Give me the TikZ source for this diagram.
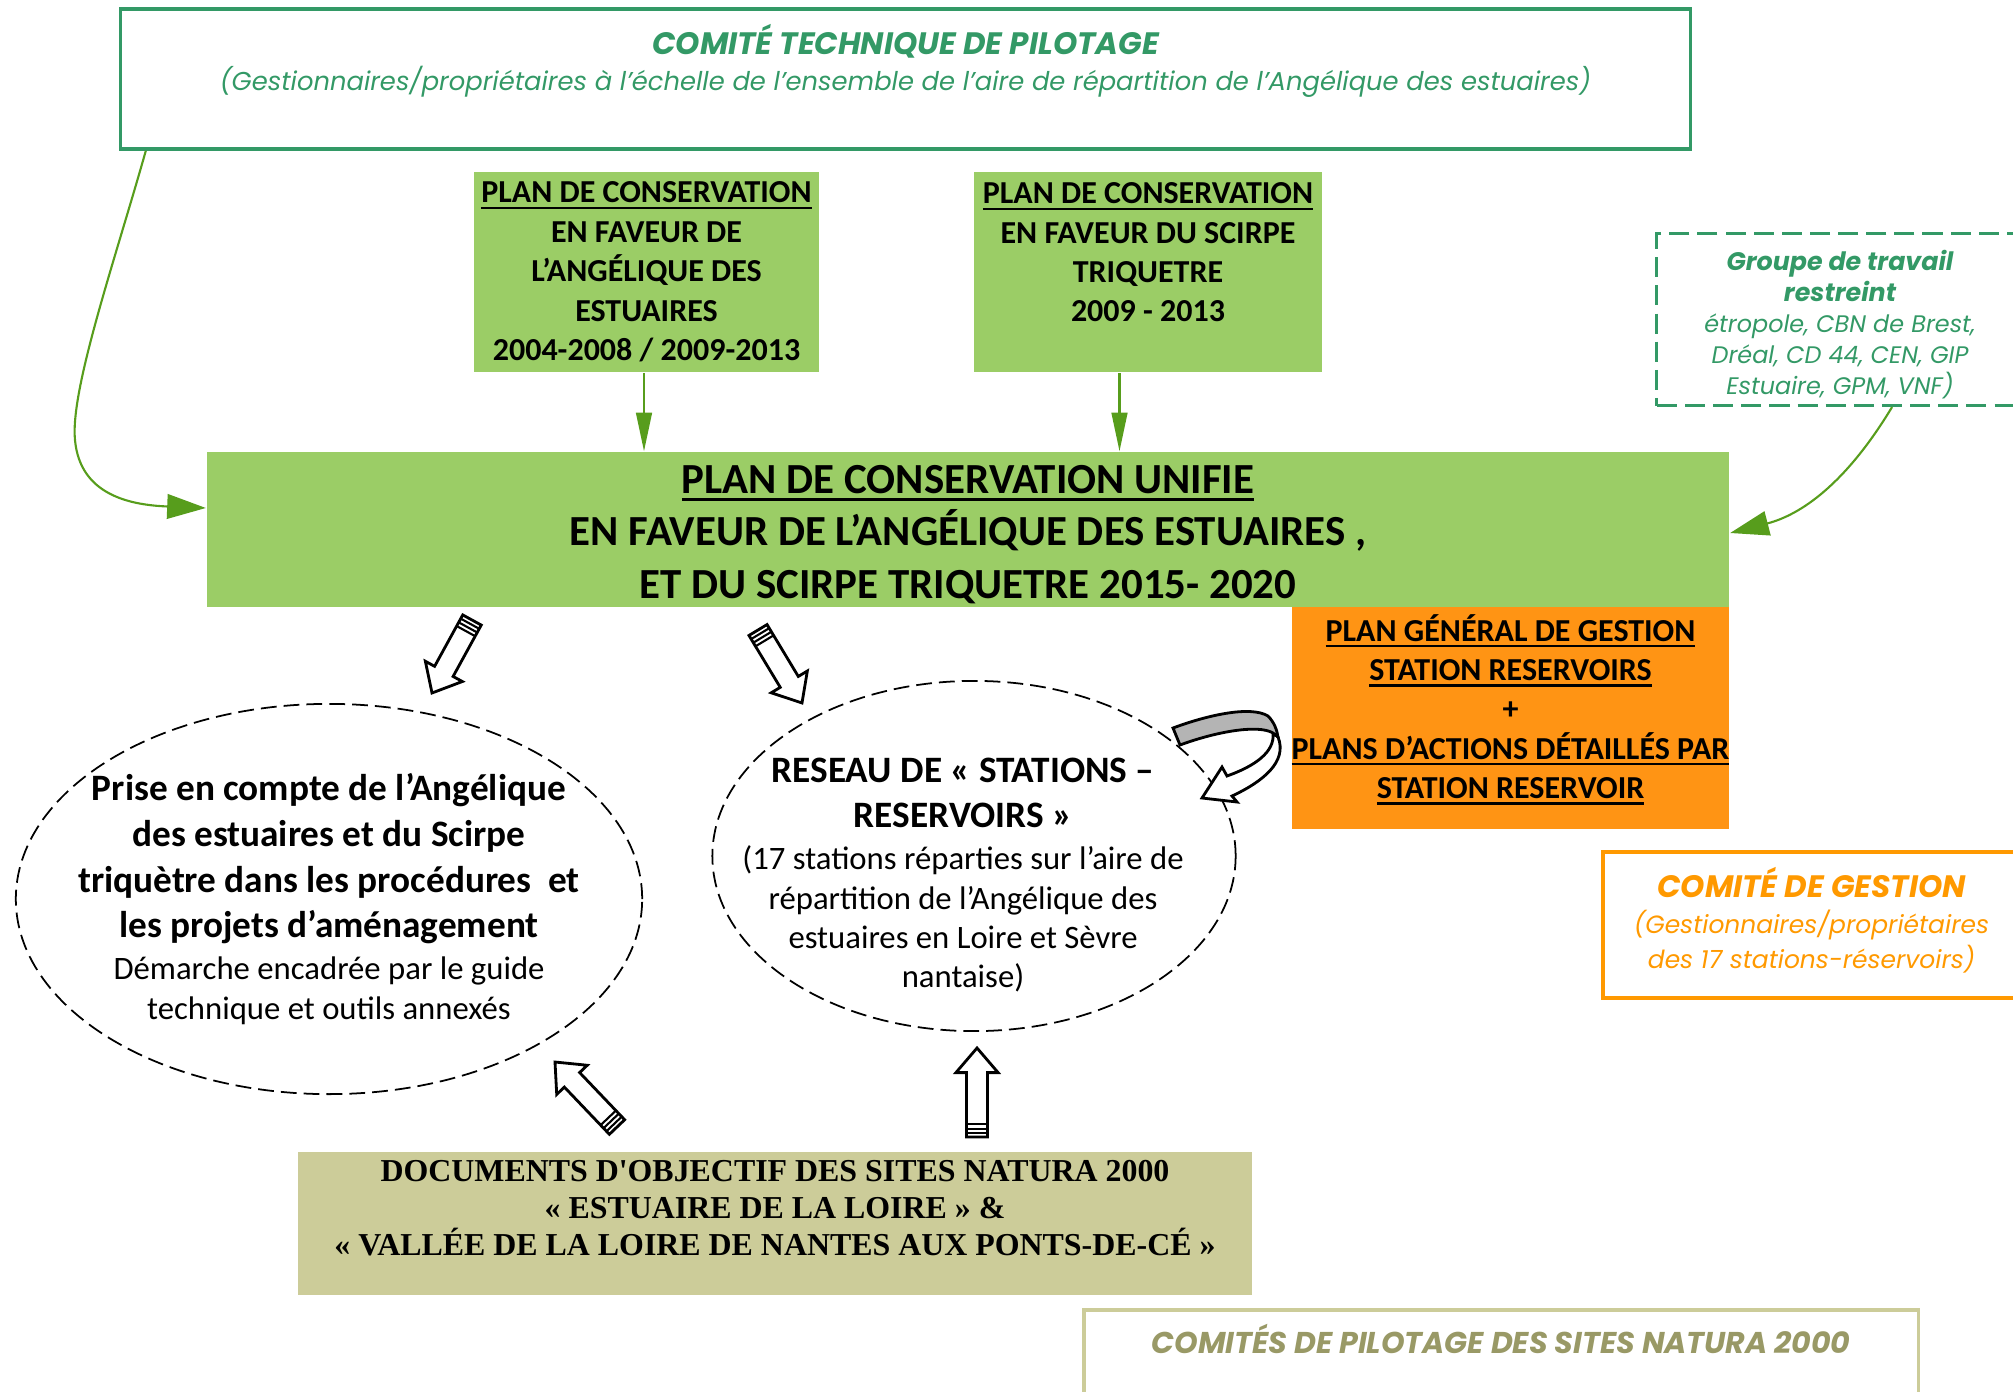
\documentclass[tikz,border=0pt]{standalone}
\usepackage{fontspec}
\setmainfont{Carlito}
\newfontfamily\gothic{Poppins}
\newfontfamily\timesf{Liberation Serif}
\usetikzlibrary{arrows.meta}
\usetikzlibrary{calc}
\usetikzlibrary{shapes.geometric}
\definecolor{cgreen}{RGB}{51,153,102}
\definecolor{lgreen}{RGB}{155,205,102}
\definecolor{agreen}{RGB}{87,157,28}
\definecolor{corange}{RGB}{255,148,20}
\definecolor{korange}{RGB}{255,153,0}
\definecolor{khaki}{RGB}{204,204,153}
\definecolor{olive}{RGB}{153,153,102}
\definecolor{gband}{RGB}{180,180,180}
\newcommand{\eb}{\fontsize{10.6}{13}\selectfont\bfseries}
\newcommand{\er}{\fontsize{9.3}{11.4}\selectfont\mdseries}
\newcommand{\gb}{\fontsize{7.2}{8.8}\selectfont\bfseries}
\newcommand{\ul}[1]{\setbox0=\hbox{#1}\rlap{\rule[-0.19em]{\wd0}{0.07em}}\box0}
\tikzset{greenbox/.style = {fill=lgreen, align=center, inner sep=0,
                            font=\fontsize{9.1}{11.2}\selectfont\bfseries}}
\tikzset{ellipsebox/.style = {ellipse, draw, line width=0.5pt,
                              dash pattern=on 4.5pt off 2pt}}
\tikzset{greenarrow/.style = {draw=agreen, line width=0.6pt,
                              -{Triangle[length=11pt, width=7pt]}}}
\tikzset{downarrow/.style = {draw=agreen, line width=0.6pt,
                             -{Triangle[length=11pt, width=4.5pt]}}}
\tikzset{pics/hollowarrow/.style = {code = {
    \draw [fill=white, line width=0.8pt] (0pt,-3pt) -- ({#1-7pt},-3pt) -- ({#1-7pt},-6pt)
      -- (#1,0pt) -- ({#1-7pt},6pt) -- ({#1-7pt},3pt) -- (0pt,3pt) -- cycle;
    \foreach \s in {1.2, 2.4, 3.6}
      \draw [line width=0.6pt] (\s pt,-3pt) -- (\s pt,3pt);
  }}}
\newcommand{\blockarrow}[2]{%
  \path let \p1 = (#1), \p2 = (#2), \n1 = {atan2(\y2-\y1,\x2-\x1)},
    \n2 = {veclen(\x2-\x1,\y2-\y1)} in pic [rotate=\n1] at (#1) {hollowarrow=\n2};}

\begin{document}
\begin{tikzpicture}[x=0.01cm, y=-0.01cm]
    \useasboundingbox (0,0) rectangle (2013,1391);

    \node [draw=cgreen, line width=1pt, minimum width=15.69cm, minimum height=1.40cm,
           align=center, text=cgreen, font=\gothic\fontsize{7.34}{10.2}\selectfont\itshape] (comite) at (905.5, 79)
      {\fontsize{8.8}{10.2}\selectfont\bfseries COMITÉ TECHNIQUE DE PILOTAGE\\
       (Gestionnaires/propriétaires à l’échelle de l’ensemble de l’aire de répartition de l’Angélique des estuaires)\\[2pt]
       \mbox{}};

    \node [greenbox, minimum width=3.45cm, minimum height=2.00cm] (plan1) at (646.5, 272)
      {\ul{PLAN DE CONSERVATION}\\ EN FAVEUR DE\\ L’ANGÉLIQUE DES\\ ESTUAIRES\\ 2004-2008 / 2009-2013};
    \node [greenbox, minimum width=3.48cm, minimum height=2.00cm] (plan2) at (1148, 272)
      {\ul{PLAN DE CONSERVATION}\\ EN FAVEUR DU SCIRPE\\ TRIQUETRE\\ 2009 - 2013\\ \mbox{}};

    \node [draw=cgreen, line width=0.85pt, dash pattern=on 5.7pt off 2.3pt, inner sep=0,
           minimum width=3.66cm, minimum height=1.72cm, align=center, text=cgreen,
           font=\gothic\fontsize{6.8}{8.8}\selectfont\itshape] (groupe) at (1840, 319.5)
      {\mbox{}\\ \gb Groupe de travail\\ \gb restreint\\ étropole, CBN de Brest,\\
       Dréal, CD 44, CEN, GIP\\ Estuaire, GPM, VNF)};

    \node [greenbox, minimum width=15.22cm, minimum height=1.55cm,
           font=\fontsize{12.2}{14.9}\selectfont\bfseries] (unifie) at (968, 529.5)
      {\mbox{}\\[-4.2pt] \ul{PLAN DE CONSERVATION UNIFIE}\\ EN FAVEUR DE L’ANGÉLIQUE DES ESTUAIRES ,\\
       ET DU SCIRPE TRIQUETRE 2015- 2020};

    \node [greenbox, fill=corange, minimum width=4.37cm, minimum height=2.22cm] (gestionplan) at (1510.5, 718)
      {\ul{PLAN GÉNÉRAL DE GESTION}\\ \ul{STATION RESERVOIRS}\\ +\\
       \ul{PLANS D’ACTIONS DÉTAILLÉS PAR}\\ \ul{STATION RESERVOIR}\\[-4.6pt] \mbox{}};

    \node [draw=korange, line width=1pt, minimum width=4.17cm, minimum height=1.46cm,
           align=center, text=korange, font=\gothic\fontsize{7.1}{10}\selectfont\itshape]
      (gestion) at (1811.5, 925)
      {\fontsize{8.8}{10}\selectfont\bfseries COMITÉ DE GESTION\\ (Gestionnaires/propriétaires\\
       des 17 stations-réservoirs)\\[-6pt] \mbox{}};

    \node [ellipsebox, minimum width=6.26cm, minimum height=3.90cm] (prise) at (329, 899) {};
    \node [align=center, font=\eb] (prisetext) at (prise.center)
      {\eb Prise en compte de l’Angélique\\ \eb des estuaires et du Scirpe\\
       \eb triquètre dans les procédures \ et\\ \eb les projets d’aménagement\\[-1.3pt]
       \er Démarche encadrée par le guide\\[-1.6pt] \er technique et outils annexés};

    \node [ellipsebox, minimum width=5.23cm, minimum height=3.50cm] (reseau) at (974, 856) {};
    \node [align=center, font=\eb] (reseautext) at (963, 875)
      {\eb RESEAU DE « STATIONS –\\ \eb RESERVOIRS »\\[-1.1pt]
       \er (17 stations réparties sur l’aire de\\[-1.8pt] \er répartition de l’Angélique des\\[-1.8pt]
       \er estuaires en Loire et Sèvre\\[-1.8pt] \er nantaise)};

    \node [fill=khaki, minimum width=9.54cm, minimum height=1.43cm, align=center, inner sep=0,
           font=\timesf\fontsize{9.07}{10.5}\selectfont\bfseries] (docob) at (775, 1223.5)
      {DOCUMENTS D'OBJECTIF DES SITES NATURA 2000\\ « ESTUAIRE DE LA LOIRE » \&\\
       « VALLÉE DE LA LOIRE DE NANTES AUX PONTS-DE-CÉ »\\[-1.4pt] \mbox{}};

    \node [draw=khaki, line width=1pt, anchor=north, minimum width=8.34cm, inner ysep=3.4pt,
           text height=9pt, text depth=20pt, text=olive,
           font=\gothic\fontsize{8.55}{9}\selectfont\bfseries\itshape] (copil) at (1501, 1308)
      {COMITÉS DE PILOTAGE DES SITES NATURA 2000};

    % fleches vertes
    \draw [downarrow] ([xshift=-0.025cm]plan1.south) -- ([xshift=-0.025cm]plan1.south |- unifie.north);
    \draw [downarrow] ([xshift=-0.285cm]plan2.south) -- ([xshift=-0.285cm]plan2.south |- unifie.north);
    \draw [greenarrow] ([xshift=0.27cm]comite.south west) .. controls (115, 260) and (70, 390)
      .. (75, 440) .. controls (80, 495) and (130, 505) .. ([yshift=0.215cm]unifie.west);
    \draw [greenarrow] ([xshift=0.52cm]groupe.south) .. controls (1845, 485) and (1800, 515)
      .. ([yshift=-0.035cm]unifie.east);

    % fleches creuses
    \coordinate (a1) at (472, 620);
    \coordinate (b1) at (432, 693);
    \coordinate (a2) at (758, 630);
    \coordinate (b2) at (802, 703);
    \coordinate (a3) at (617, 1127);
    \coordinate (b3) at (555, 1062);
    \coordinate (a4) at (977, 1137);
    \coordinate (b4) at (977, 1048);
    \blockarrow{a1}{b1}
    \blockarrow{a2}{b2}
    \blockarrow{a3}{b3}
    \blockarrow{a4}{b4}

    % fleche courbe
    \draw [line width=0.8pt, fill=white] (1273, 733) .. controls (1275, 752) and (1255, 766) .. (1227, 776)
      -- (1222, 767) -- (1202, 798) -- (1237, 802) -- (1232, 796)
      .. controls (1262, 782) and (1288, 762) .. (1278, 737) -- cycle;
    \draw [line width=0.8pt, fill=gband] (1173, 728) .. controls (1205, 716) and (1250, 705) .. (1268, 716)
      .. controls (1274, 722) and (1277, 730) .. (1278, 737) -- (1273, 733)
      .. controls (1258, 724) and (1215, 732) .. (1180, 745) -- cycle;
\end{tikzpicture}
\end{document}
